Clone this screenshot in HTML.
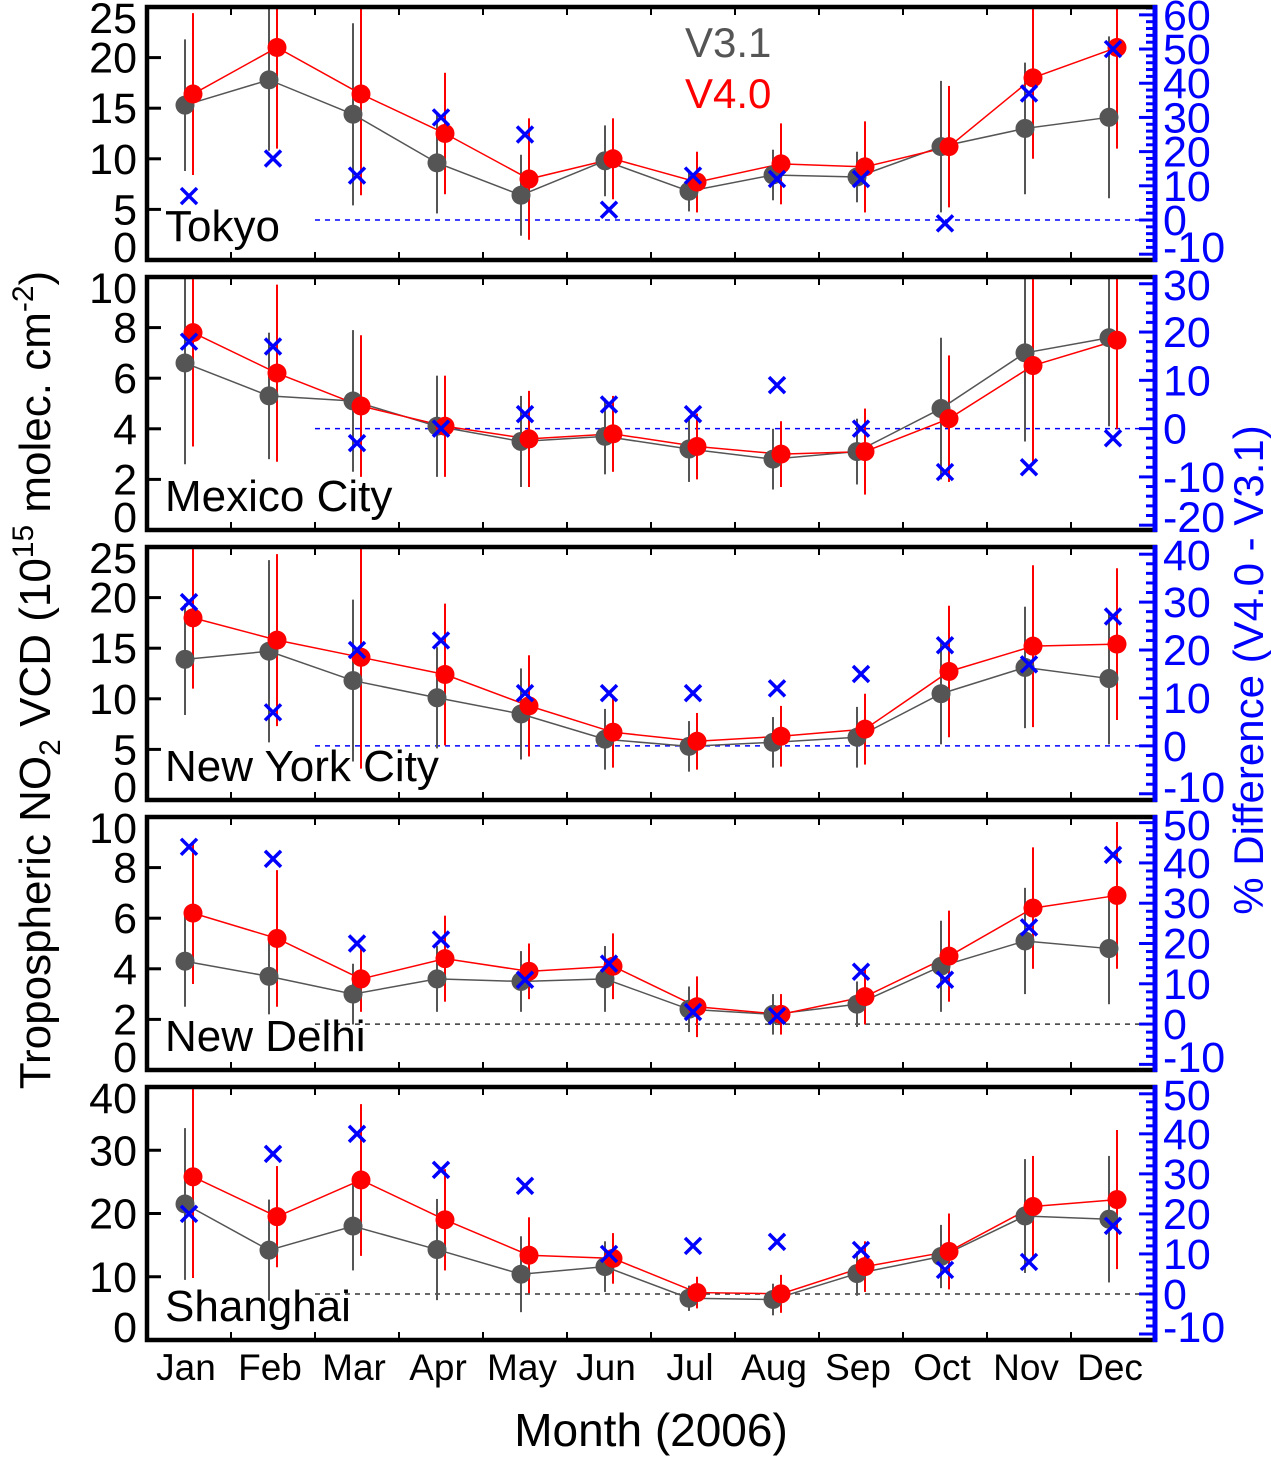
<!DOCTYPE html>
<html><head><meta charset="utf-8"><style>
html,body{margin:0;padding:0;background:#fff}
svg{display:block;font-family:"Liberation Sans",Arial,sans-serif}
</style></head><body>
<svg id="chart" width="1271" height="1461" viewBox="0 0 1271 1461" xmlns="http://www.w3.org/2000/svg">
<g id="root"></g>
</svg>
<script>
const months = ["Jan","Feb","Mar","Apr","May","Jun","Jul","Aug","Sep","Oct","Nov","Dec"];
const cityNames = ["Tokyo","Mexico City","New York City","New Delhi","Shanghai"];
const tokyoV31 = [15.3,17.8,14.4,9.6,6.4,9.8,6.8,8.4,8.2,11.2,13.0,14.1];
const tokyoV40 = [16.4,21.0,16.4,12.5,8.0,10.0,7.7,9.5,9.2,11.2,18.0,21.0];
const tokyoErrV31 = [6.5,7,9,5,4,3.5,2,2.5,2.5,6.5,6.5,8];
const tokyoErrV40 = [8,10,10,6,6,4,3,4,4.5,6,8,10];
const tokyoDiff = [7,18,13,30,25,3,13,12,12,-1,37,50];
const mexicoV31 = [6.6,5.3,5.1,4.1,3.5,3.7,3.2,2.8,3.1,4.8,7.0,7.6];
const mexicoV40 = [7.8,6.2,4.9,4.1,3.6,3.8,3.3,3.0,3.1,4.4,6.5,7.5];
const mexicoErrV31 = [4,2.5,2.8,2,1.8,1.5,1.3,1.2,1.3,2.8,3.5,3.5];
const mexicoErrV40 = [4.5,3.5,2.8,2,1.9,1.5,1.3,1.3,1.7,2.5,3.8,3.5];
const mexicoDiff = [18,17,-3,0,3,5,3,9,0,-9,-8,-2];
const nycV31 = [13.9,14.7,11.8,10.1,8.5,6.0,5.3,5.7,6.2,10.5,13.1,12.0];
const nycV40 = [18.0,15.8,14.1,12.4,9.3,6.7,5.8,6.3,7.0,12.7,15.2,15.4];
const nycErrV31 = [5.5,9,8,5,4.5,3,2.5,2.5,3,5,6,6.5];
const nycErrV40 = [7,8.5,11,7,5,3.5,2.8,3,3.5,6.5,8,7.5];
const nycDiff = [30,7,20,22,11,11,11,12,15,21,17,27];
const delhiV31 = [4.3,3.7,3.0,3.6,3.5,3.6,2.4,2.2,2.6,4.1,5.1,4.8];
const delhiV40 = [6.2,5.2,3.6,4.4,3.9,4.1,2.5,2.2,2.9,4.5,6.4,6.9];
const delhiErrV31 = [1.8,1.5,1.2,1.3,1.2,1.3,0.9,0.8,0.9,1.8,2.1,2.2];
const delhiErrV40 = [2.8,2.7,1.3,1.7,1.1,1.3,1.2,0.8,1.1,1.8,2.4,2.9];
const delhiDiff = [44,41,20,21,11,15,3,2,13,11,24,42];
const shanghaiV31 = [21.5,14.2,18.0,14.3,10.4,11.6,6.6,6.4,10.5,13.2,19.6,19.1];
const shanghaiV40 = [25.8,19.5,25.3,19.0,13.4,12.9,7.5,7.3,11.6,14.0,21.1,22.2];
const shanghaiErrV31 = [12,8,7,8,6,4,2,2.5,3.5,5,9,10];
const shanghaiErrV40 = [16,8,12,8,6,4,2.5,3,4,6,8,11];
const shanghaiDiff = [20,35,40,31,27,10,12,13,11,6,8,17];
const leftTicks = [[0,5,10,15,20,25],[0,2,4,6,8,10],[0,5,10,15,20,25],[0,2,4,6,8,10],[0,10,20,30,40]];
const rightTicks = [[-10,0,10,20,30,40,50,60],[-20,-10,0,10,20,30],[-10,0,10,20,30,40],[-10,0,10,20,30,40,50],[-10,0,10,20,30,40,50]];

const panels = [
 {top:7,bot:260,lmax:25,rmin:-11.7,rmax:62.3,v31:tokyoV31,v40:tokyoV40,e31:tokyoErrV31,e40:tokyoErrV40,d:tokyoDiff,zc:"#0000ff",key:"tokyo"},
 {top:277,bot:530,lmax:10,rmin:-21,rmax:31.4,v31:mexicoV31,v40:mexicoV40,e31:mexicoErrV31,e40:mexicoErrV40,d:mexicoDiff,zc:"#0000ff",key:"mexico-city"},
 {top:547,bot:800,lmax:25,rmin:-11.3,rmax:41.5,v31:nycV31,v40:nycV40,e31:nycErrV31,e40:nycErrV40,d:nycDiff,zc:"#0000ff",key:"new-york-city"},
 {top:817,bot:1070,lmax:10,rmin:-11.4,rmax:51.4,v31:delhiV31,v40:delhiV40,e31:delhiErrV31,e40:delhiErrV40,d:delhiDiff,zc:"#333",key:"new-delhi"},
 {top:1087,bot:1340,lmax:40,rmin:-11.5,rmax:51.7,v31:shanghaiV31,v40:shanghaiV40,e31:shanghaiErrV31,e40:shanghaiErrV40,d:shanghaiDiff,zc:"#333",key:"shanghai"}
];
const L=147,R=1155,ST=84;
const NS="http://www.w3.org/2000/svg";
const root=document.getElementById('root');
function mk(tag,attrs,parent){const e=document.createElementNS(NS,tag);for(const k in attrs)e.setAttribute(k,attrs[k]);(parent||root).appendChild(e);return e;}
function xAt(i){return L+(i+0.5)*ST;}
panels.forEach((p,pi)=>{
 const g=mk('g',{});
 
 
 const yL=v=>p.bot-(v/p.lmax)*(p.bot-p.top);
 const yR=v=>p.bot-((v-p.rmin)/(p.rmax-p.rmin))*(p.bot-p.top);
 const clip=mk('clipPath',{id:'c'+pi},g);
 mk('rect',{x:L,y:p.top,width:R-L,height:p.bot-p.top},clip);
 const inner=mk('g',{'clip-path':'url(#c'+pi+')'},g);
 const z=mk('line',{x1:315,x2:R,y1:yR(0),y2:yR(0),stroke:p.zc,'stroke-width':1.5,'stroke-dasharray':'5,5'},inner);
 
 
 leftTicks[pi].forEach(v=>{
  const y=yL(v);
  mk('line',{x1:L,x2:L+14,y1:y,y2:y,stroke:'#000','stroke-width':3},g);
  let ty=Math.min(Math.max(y,p.top+11),p.bot-13);
  const t=mk('text',{x:137,y:ty+15,'text-anchor':'end','font-size':43,fill:'#000'},g);
  t.textContent=v;
  
  
 });
 for(let v=Math.ceil(p.rmin/2)*2;v<=p.rmax;v+=2){
  const y=yR(v);const maj=v%10===0;
  mk('line',{x1:R-(maj?16:9),x2:R,y1:y,y2:y,stroke:'#0000ff','stroke-width':3},g);
 }
 rightTicks[pi].forEach(v=>{
  const y=yR(v);
  let ty=Math.min(Math.max(y,p.top+8),p.bot-13);
  const t=mk('text',{x:1163,y:ty+15,'font-size':43,fill:'#0000ff'},g);
  t.textContent=v;
  
  
 });
 for(let i=1;i<12;i++){
  const x=L+i*ST;
  mk('line',{x1:x,x2:x,y1:p.bot,y2:p.bot-8,stroke:'#000','stroke-width':2},g);
  mk('line',{x1:x,x2:x,y1:p.top,y2:p.top+8,stroke:'#000','stroke-width':2},g);
 }
 months.forEach((m,i)=>{
  const xg=xAt(i)-4,xr=xAt(i)+4;
  mk('line',{x1:xg,x2:xg,y1:yL(p.v31[i]-p.e31[i]),y2:yL(p.v31[i]+p.e31[i]),stroke:'#555','stroke-width':2},inner);
  mk('line',{x1:xr,x2:xr,y1:yL(p.v40[i]-p.e40[i]),y2:yL(p.v40[i]+p.e40[i]),stroke:'#f00','stroke-width':2},inner);
 });
 const l31=mk('polyline',{points:p.v31.map((v,i)=>(xAt(i)-4)+','+yL(v)).join(' '),fill:'none',stroke:'#555','stroke-width':1.5},inner);
 
 
 const l40=mk('polyline',{points:p.v40.map((v,i)=>(xAt(i)+4)+','+yL(v)).join(' '),fill:'none',stroke:'#f00','stroke-width':1.5},inner);
 
 
 months.forEach((m,i)=>{
  const c1=mk('circle',{cx:xAt(i)-4,cy:yL(p.v31[i]),r:9.5,fill:'#555'},inner);
  
  
  const c2=mk('circle',{cx:xAt(i)+4,cy:yL(p.v40[i]),r:9.5,fill:'#f00'},inner);
  
  
  const x=xAt(i),y=yR(p.d[i]),s=8;
  const cr=mk('path',{d:`M${x-s},${y-s}L${x+s},${y+s}M${x-s},${y+s}L${x+s},${y-s}`,stroke:'#0000ff','stroke-width':3.5,fill:'none'},inner);
  
  
 });
 const ct=mk('text',{x:165,y:p.bot-19,'font-size':44,fill:'#000'},g);
 ct.textContent=cityNames[pi];
 
 
 const fr=mk('rect',{x:L,y:p.top,width:R-L,height:p.bot-p.top,fill:'none',stroke:'#000','stroke-width':4.5},g);
 
 
 mk('line',{x1:R,x2:R,y1:p.top-2,y2:p.bot+2,stroke:'#0000ff','stroke-width':5},g);
});
months.forEach((m,i)=>{
 const t=mk('text',{x:xAt(i)-3,y:1380,'text-anchor':'middle','font-size':37,fill:'#000'});
 t.textContent=m;
 
 
});
</script>
<svg style="position:absolute;left:0;top:0" width="1271" height="1461">
<text x="685" y="57" font-size="42" fill="#555" font-family="Liberation Sans, sans-serif">V3.1</text>
<text x="685" y="108" font-size="42" fill="#f00" font-family="Liberation Sans, sans-serif">V4.0</text>
<text x="651" y="1446" text-anchor="middle" font-size="46" fill="#000" font-family="Liberation Sans, sans-serif">Month (2006)</text>
<text transform="translate(50,680) rotate(-90)" text-anchor="middle" font-size="44" fill="#000" font-family="Liberation Sans, sans-serif">Tropospheric NO<tspan font-size="30" dy="10">2</tspan><tspan dy="-10"> VCD (10</tspan><tspan font-size="30" dy="-17">15</tspan><tspan dy="17"> molec. cm</tspan><tspan font-size="30" dy="-17">-2</tspan><tspan dy="17">)</tspan></text>
<text transform="translate(1263,670) rotate(-90)" text-anchor="middle" font-size="42" fill="#0000ff" font-family="Liberation Sans, sans-serif">% Difference (V4.0 - V3.1)</text>
</svg>
</body></html>
